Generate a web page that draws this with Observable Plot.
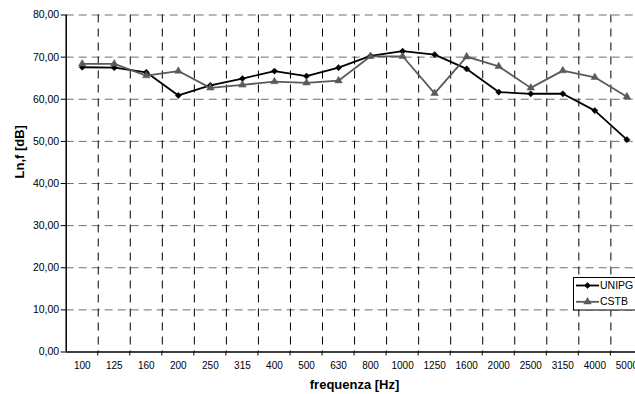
<!DOCTYPE html>
<html>
<head>
<meta charset="utf-8">
<script src="https://cdn.jsdelivr.net/npm/d3@7"></script>
<script src="https://cdn.jsdelivr.net/npm/@observablehq/plot@0.6"></script>
<style>
  html, body { margin: 0; padding: 0; background: #fff; }
  #chart { width: 635px; height: 394px; overflow: hidden; }
</style>
</head>
<body>
<div id="chart"></div>
<script>
const frequencies = ["100","125","160","200","250","315","400","500","630","800","1000","1250","1600","2000","2500","3150","4000","5000"];
const unipg = [67.6, 67.5, 66.4, 60.9, 63.3, 64.9, 66.7, 65.5, 67.5, 70.3, 71.4, 70.6, 67.2, 61.7, 61.3, 61.3, 57.3, 50.4];
const cstb  = [68.4, 68.4, 65.6, 66.7, 62.7, 63.4, 64.2, 63.9, 64.4, 70.2, 70.2, 61.4, 70.1, 67.8, 62.7, 66.8, 65.2, 60.6];
const yTicks = [0, 10, 20, 30, 40, 50, 60, 70, 80];
const seriesNames = ["UNIPG", "CSTB"];
const seriesColors = ["#000000", "#5a5a5a"];
const seriesSymbols = ["diamond2", "triangle"];

const idx = frequencies.map((_, i) => i);
const boundaries = frequencies.slice(0, -1).map((_, i) => i + 0.5);
const rows = [
  ...unipg.map((v, i) => ({i, v, s: seriesNames[0]})),
  ...cstb.map((v, i) => ({i, v, s: seriesNames[1]}))
];
const fmt = v => v.toFixed(2).replace(".", ",");
const font = "'Liberation Sans', Arial, sans-serif";

const plot = Plot.plot({
  width: 635,
  height: 394,
  marginLeft: 65.7,
  marginRight: -7.4,
  marginTop: 14.5,
  marginBottom: 42.5,
  style: {fontFamily: font, background: "#fff", color: "#000"},
  x: {type: "linear", domain: [-0.5, 17.5]},
  y: {domain: [0, 80]},
  color: {domain: seriesNames, range: seriesColors},
  symbol: {domain: seriesNames, range: seriesSymbols},
  marks: [
    // horizontal gridlines
    Plot.ruleY(yTicks.filter(d => d > 0), {stroke: "#6e6e6e", strokeWidth: 1, strokeDasharray: "8,5"}),
    // vertical gridlines
    Plot.ruleX(boundaries, {stroke: "#000", strokeWidth: 1, strokeDasharray: "8,6"}),
    // lines
    Plot.line(rows, {x: "i", y: "v", z: "s", stroke: "s", strokeWidth: 1.8}),
    Plot.dot(rows, {x: "i", y: "v", symbol: "s", fill: "s", stroke: "s", r: 2.8, strokeWidth: 0.5}),
    // axes
    Plot.axisY(yTicks, {tickSize: 5, tickPadding: 2, tickFormat: fmt, fontSize: 10.5, label: null}),
    Plot.axisX(idx, {tickSize: 0, tickPadding: 10, tickFormat: i => frequencies[i], fontSize: 10, label: null}),
    Plot.ruleY([0], {stroke: "#000", strokeWidth: 1.5}),
    Plot.ruleX([-0.5], {stroke: "#000", strokeWidth: 1.5}),
    Plot.text(["frequenza [Hz]"], {frameAnchor: "bottom", dy: 37, fontWeight: "bold", fontSize: 13, fill: "#000"}),
    Plot.text(["Ln,f [dB]"], {frameAnchor: "left", dx: -46, dy: -5, rotate: -90, fontWeight: "bold", fontSize: 13, fill: "#000"})
  ]
});

// tick marks below the x axis at category boundaries (via the x scale)
const xs = plot.scale("x");
const ys = plot.scale("y");
const svg = d3.select(plot);
const y0 = ys.apply(0);
svg.append("g")
  .selectAll("line")
  .data(boundaries)
  .join("line")
  .attr("x1", d => xs.apply(d)).attr("x2", d => xs.apply(d))
  .attr("y1", y0).attr("y2", y0 + 4)
  .attr("stroke", "#000");

// legend
const lg = svg.append("g").attr("font-family", font).attr("font-size", 10.5).attr("text-anchor", "start");
lg.append("rect").attr("x", 573.5).attr("y", 277.5).attr("width", 80).attr("height", 32.5)
  .attr("fill", "#fff").attr("stroke", "#000").attr("stroke-width", 1);
seriesNames.forEach((name, k) => {
  const cy = 285.5 + k * 16.3;
  lg.append("line").attr("x1", 576).attr("x2", 599).attr("y1", cy).attr("y2", cy)
    .attr("stroke", seriesColors[k]).attr("stroke-width", 1.8);
  const sym = k === 0 ? d3.symbolDiamond2 : d3.symbolTriangle;
  lg.append("path").attr("d", d3.symbol(sym, Math.PI * 2.8 * 2.8)())
    .attr("transform", `translate(587.5,${cy})`)
    .attr("fill", seriesColors[k]).attr("stroke", seriesColors[k]).attr("stroke-width", 0.5);
  lg.append("text").attr("x", 600).attr("y", cy).attr("dy", "0.35em").attr("fill", "#000").text(name);
});

document.getElementById("chart").appendChild(plot);
</script>
</body>
</html>
